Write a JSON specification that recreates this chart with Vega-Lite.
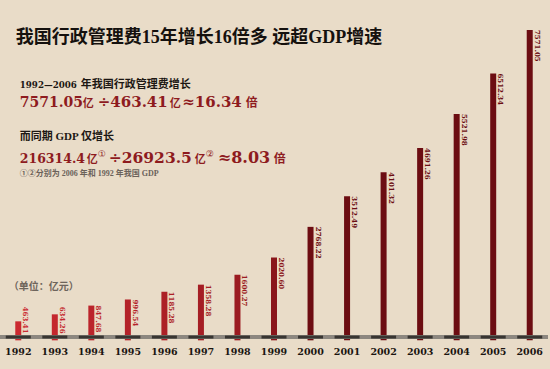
{
  "$schema": "https://vega.github.io/schema/vega-lite/v6.json",
  "width": 548,
  "height": 335,
  "autosize": {"type": "none"},
  "padding": {"left": 0, "top": 0, "right": 2, "bottom": 34},
  "background": "#e9dcc8",
  "config": {"view": {"stroke": null}},
  "data": {"values": [
    {"year": "1992", "value": 463.41, "label": "463.41"},
    {"year": "1993", "value": 634.26, "label": "634.26"},
    {"year": "1994", "value": 847.68, "label": "847.68"},
    {"year": "1995", "value": 996.54, "label": "996.54"},
    {"year": "1996", "value": 1185.28, "label": "1185.28"},
    {"year": "1997", "value": 1358.28, "label": "1358.28"},
    {"year": "1998", "value": 1600.27, "label": "1600.27"},
    {"year": "1999", "value": 2020.60, "label": "2020.60"},
    {"year": "2000", "value": 2768.22, "label": "2768.22"},
    {"year": "2001", "value": 3512.49, "label": "3512.49"},
    {"year": "2002", "value": 4101.32, "label": "4101.32"},
    {"year": "2003", "value": 4691.26, "label": "4691.26"},
    {"year": "2004", "value": 5521.98, "label": "5521.98"},
    {"year": "2005", "value": 6512.34, "label": "6512.34"},
    {"year": "2006", "value": 7571.05, "label": "7571.05"}
  ]},
  "layer": [
    {
      "mark": {"type": "bar", "width": 6},
      "encoding": {
        "x": {"field": "year", "type": "ordinal",
          "scale": {"paddingInner": 0, "paddingOuter": -0.05},
          "axis": {"title": null, "domain": false, "ticks": false, "labelAngle": 0,
            "labelFont": "DejaVu Serif", "labelFontWeight": "bold", "labelFontSize": 9.5,
            "labelColor": "#1a1410", "labelBaseline": "middle", "labelPadding": 16}},
        "y": {"field": "value", "type": "quantitative",
          "scale": {"domain": [130, 8303], "zero": false, "nice": false},
          "axis": null},
        "color": {"field": "value", "type": "quantitative",
          "scale": {"domain": [463, 2800], "range": ["#cb2930", "#6c0d12"], "clamp": true},
          "legend": null}
      }
    },
    {
      "mark": {"type": "rule", "color": "#8d8780", "strokeWidth": 2.5},
      "encoding": {"y": {"datum": 80}}
    },
    {
      "mark": {"type": "tick", "orient": "horizontal", "color": "#141210", "thickness": 3, "size": 25},
      "encoding": {
        "x": {"field": "year", "type": "ordinal"},
        "y": {"datum": 80}
      }
    },
    {
      "transform": [{"filter": "datum.value >= 800"}],
      "mark": {"type": "text", "angle": 90, "align": "left", "baseline": "bottom", "dy": -4,
        "font": "DejaVu Serif", "fontWeight": "bold", "fontSize": 7},
      "encoding": {
        "x": {"field": "year", "type": "ordinal"},
        "y": {"field": "value", "type": "quantitative"},
        "text": {"field": "label"},
        "color": {"field": "value", "type": "quantitative", "legend": null}
      }
    },
    {
      "transform": [{"filter": "datum.value < 800"}],
      "mark": {"type": "text", "angle": 90, "align": "left", "baseline": "bottom", "dy": -4,
        "font": "DejaVu Serif", "fontWeight": "bold", "fontSize": 7},
      "encoding": {
        "x": {"field": "year", "type": "ordinal"},
        "y": {"datum": 820},
        "text": {"field": "label"},
        "color": {"field": "value", "type": "quantitative", "legend": null}
      }
    },
    {
      "transform": [{"filter": "datum.year == '1992'"}],
      "mark": {"type": "text", "align": "left", "baseline": "middle", "dx": -2.5,
        "font": "Liberation Serif, Noto Sans CJK SC", "fontWeight": "bold", "fontSize": 18, "color": "#15110e"},
      "encoding": {"x": {"field": "year", "type": "ordinal"}, "y": {"datum": 7376}, "text": {"value": "我国行政管理费15年增长16倍多 远超GDP增速"}}
    },
    {
      "transform": [{"filter": "datum.year == '1992'"}],
      "mark": {"type": "text", "align": "left", "baseline": "alphabetic", "dx": 1.5,
        "font": "DejaVu Serif", "fontWeight": "bold", "fontSize": 8.7, "color": "#1c1713"},
      "encoding": {"x": {"field": "year", "type": "ordinal"}, "y": {"datum": 6156}, "text": {"value": "1992—2006"}}
    },
    {
      "transform": [{"filter": "datum.year == '1992'"}],
      "mark": {"type": "text", "align": "left", "baseline": "alphabetic", "dx": 62.5,
        "font": "Noto Sans CJK SC", "fontWeight": "bold", "fontSize": 11, "color": "#1c1713"},
      "encoding": {"x": {"field": "year", "type": "ordinal"}, "y": {"datum": 6156}, "text": {"value": "年我国行政管理费增长"}}
    },
    {
      "transform": [{"filter": "datum.year == '1992'"}],
      "mark": {"type": "text", "align": "left", "baseline": "middle", "dx": 1.5,
        "font": "Liberation Serif, Noto Sans CJK SC", "fontWeight": "bold", "fontSize": 11, "color": "#1c1713"},
      "encoding": {"x": {"field": "year", "type": "ordinal"}, "y": {"datum": 4961}, "text": {"value": "而同期 GDP 仅增长"}}
    },
    {
      "transform": [{"filter": "datum.year == '1992'"}],
      "mark": {"type": "text", "align": "left", "baseline": "middle", "dx": 1.5,
        "font": "Liberation Serif, Noto Sans CJK SC", "fontWeight": "bold", "fontSize": 8, "color": "#6b625a"},
      "encoding": {"x": {"field": "year", "type": "ordinal"}, "y": {"datum": 4058}, "text": {"value": "①②分别为 2006 年和 1992 年我国 GDP"}}
    },
    {
      "transform": [{"filter": "datum.year == '1992'"}],
      "mark": {"type": "text", "align": "left", "baseline": "middle", "dx": -9.5,
        "font": "Noto Sans CJK SC", "fontWeight": "bold", "fontSize": 10, "color": "#6e655c"},
      "encoding": {"x": {"field": "year", "type": "ordinal"}, "y": {"datum": 1301}, "text": {"value": "（单位：亿元）"}}
    },
    {
      "transform": [{"filter": "datum.year == '1992'"}],
      "mark": {"type": "text", "align": "left", "baseline": "alphabetic", "dx": 1.5,
        "font": "DejaVu Serif", "fontWeight": "bold", "fontSize": 14, "color": "#8e1b1e"},
      "encoding": {"x": {"field": "year", "type": "ordinal"}, "y": {"datum": 5692}, "text": {"value": "7571.05"}}
    },
    {
      "transform": [{"filter": "datum.year == '1992'"}],
      "mark": {"type": "text", "align": "left", "baseline": "alphabetic", "dx": 64.5,
        "font": "Noto Sans CJK SC", "fontWeight": "bold", "fontSize": 11, "color": "#8e1b1e"},
      "encoding": {"x": {"field": "year", "type": "ordinal"}, "y": {"datum": 5692}, "text": {"value": "亿"}}
    },
    {
      "transform": [{"filter": "datum.year == '1992'"}],
      "mark": {"type": "text", "align": "left", "baseline": "alphabetic", "dx": 79.5,
        "font": "DejaVu Serif", "fontWeight": "bold", "fontSize": 15, "color": "#8e1b1e"},
      "encoding": {"x": {"field": "year", "type": "ordinal"}, "y": {"datum": 5692}, "text": {"value": "÷463.41"}}
    },
    {
      "transform": [{"filter": "datum.year == '1992'"}],
      "mark": {"type": "text", "align": "left", "baseline": "alphabetic", "dx": 151.5,
        "font": "Noto Sans CJK SC", "fontWeight": "bold", "fontSize": 11, "color": "#8e1b1e"},
      "encoding": {"x": {"field": "year", "type": "ordinal"}, "y": {"datum": 5692}, "text": {"value": "亿"}}
    },
    {
      "transform": [{"filter": "datum.year == '1992'"}],
      "mark": {"type": "text", "align": "left", "baseline": "alphabetic", "dx": 164,
        "font": "DejaVu Serif", "fontWeight": "bold", "fontSize": 15, "color": "#8e1b1e"},
      "encoding": {"x": {"field": "year", "type": "ordinal"}, "y": {"datum": 5692}, "text": {"value": "≈16.34"}}
    },
    {
      "transform": [{"filter": "datum.year == '1992'"}],
      "mark": {"type": "text", "align": "left", "baseline": "alphabetic", "dx": 227.5,
        "font": "Noto Sans CJK SC", "fontWeight": "bold", "fontSize": 12, "color": "#8e1b1e"},
      "encoding": {"x": {"field": "year", "type": "ordinal"}, "y": {"datum": 5692}, "text": {"value": "倍"}}
    },
    {
      "transform": [{"filter": "datum.year == '1992'"}],
      "mark": {"type": "text", "align": "left", "baseline": "alphabetic", "dx": 1.5,
        "font": "DejaVu Serif", "fontWeight": "bold", "fontSize": 12.5, "color": "#8e1b1e"},
      "encoding": {"x": {"field": "year", "type": "ordinal"}, "y": {"datum": 4326}, "text": {"value": "216314.4"}}
    },
    {
      "transform": [{"filter": "datum.year == '1992'"}],
      "mark": {"type": "text", "align": "left", "baseline": "alphabetic", "dx": 68.5,
        "font": "Noto Sans CJK SC", "fontWeight": "bold", "fontSize": 11, "color": "#8e1b1e"},
      "encoding": {"x": {"field": "year", "type": "ordinal"}, "y": {"datum": 4326}, "text": {"value": "亿"}}
    },
    {
      "transform": [{"filter": "datum.year == '1992'"}],
      "mark": {"type": "text", "align": "left", "baseline": "alphabetic", "dx": 79.5,
        "font": "DejaVu Sans", "fontWeight": "normal", "fontSize": 9, "color": "#8e1b1e"},
      "encoding": {"x": {"field": "year", "type": "ordinal"}, "y": {"datum": 4473}, "text": {"value": "①"}}
    },
    {
      "transform": [{"filter": "datum.year == '1992'"}],
      "mark": {"type": "text", "align": "left", "baseline": "alphabetic", "dx": 90.5,
        "font": "DejaVu Serif", "fontWeight": "bold", "fontSize": 15.5, "color": "#8e1b1e"},
      "encoding": {"x": {"field": "year", "type": "ordinal"}, "y": {"datum": 4326}, "text": {"value": "÷26923.5"}}
    },
    {
      "transform": [{"filter": "datum.year == '1992'"}],
      "mark": {"type": "text", "align": "left", "baseline": "alphabetic", "dx": 176.5,
        "font": "Noto Sans CJK SC", "fontWeight": "bold", "fontSize": 11, "color": "#8e1b1e"},
      "encoding": {"x": {"field": "year", "type": "ordinal"}, "y": {"datum": 4326}, "text": {"value": "亿"}}
    },
    {
      "transform": [{"filter": "datum.year == '1992'"}],
      "mark": {"type": "text", "align": "left", "baseline": "alphabetic", "dx": 187.5,
        "font": "DejaVu Sans", "fontWeight": "normal", "fontSize": 9, "color": "#8e1b1e"},
      "encoding": {"x": {"field": "year", "type": "ordinal"}, "y": {"datum": 4473}, "text": {"value": "②"}}
    },
    {
      "transform": [{"filter": "datum.year == '1992'"}],
      "mark": {"type": "text", "align": "left", "baseline": "alphabetic", "dx": 199.5,
        "font": "DejaVu Serif", "fontWeight": "bold", "fontSize": 16, "color": "#8e1b1e"},
      "encoding": {"x": {"field": "year", "type": "ordinal"}, "y": {"datum": 4326}, "text": {"value": "≈8.03"}}
    },
    {
      "transform": [{"filter": "datum.year == '1992'"}],
      "mark": {"type": "text", "align": "left", "baseline": "alphabetic", "dx": 255.5,
        "font": "Noto Sans CJK SC", "fontWeight": "bold", "fontSize": 12, "color": "#8e1b1e"},
      "encoding": {"x": {"field": "year", "type": "ordinal"}, "y": {"datum": 4326}, "text": {"value": "倍"}}
    }
  ]
}
